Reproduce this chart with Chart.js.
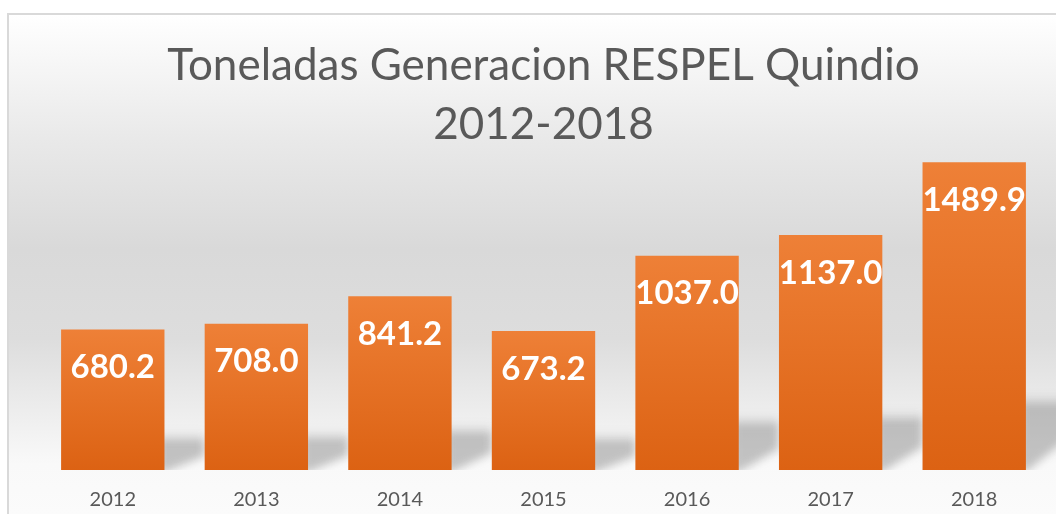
<!DOCTYPE html>
<html>
<head>
<meta charset="utf-8">
<script src="https://cdn.jsdelivr.net/npm/chart.js@4.4.1/dist/chart.umd.min.js"></script>
<style>
    html, body { margin: 0; padding: 0; background: #ffffff; overflow: hidden; }
    #wrap { width: 1056px; height: 540px; }
</style>
</head>
<body>
<div id="wrap"><canvas id="chart" width="1056" height="540"></canvas></div>
<script>
// Data
const years = ['2012', '2013', '2014', '2015', '2016', '2017', '2018'];
const tons = [680.2, 708.0, 841.2, 673.2, 1037.0, 1137.0, 1489.9];
const titleLines = ['Toneladas Generacion RESPEL Quindio', '2012-2018'];

const textGrey = '#595959';

/**
 * Paints the framed, grey-gradient panel behind the whole chart.
 */
const panelBackground = {
    id: 'panelBackground',
    beforeDraw(chart) {
        const ctx = chart.ctx;
        ctx.save();
        ctx.fillStyle = '#ffffff';
        ctx.fillRect(0, 0, chart.width, chart.height);

        const grad = ctx.createLinearGradient(0, 14, 0, 514);
        grad.addColorStop(0.00, '#ffffff');
        grad.addColorStop(0.25, '#e9e9e9');
        grad.addColorStop(0.47, '#d9d9d9');
        grad.addColorStop(0.65, '#dddddd');
        grad.addColorStop(0.82, '#f0f0f0');
        grad.addColorStop(0.90, '#f9f9f9');
        grad.addColorStop(1.00, '#fbfbfb');
        ctx.fillStyle = grad;
        ctx.fillRect(8, 14, chart.width, chart.height);

        ctx.strokeStyle = '#d9d9d9';
        ctx.lineWidth = 2;
        ctx.beginPath();
        ctx.moveTo(8, chart.height);
        ctx.lineTo(8, 14);
        ctx.lineTo(chart.width + 4, 14);
        ctx.stroke();
        ctx.restore();
    }
};

/**
 * Soft floor shadows to the right of each bar.
 */
const barShadows = {
    id: 'barShadows',
    beforeDatasetsDraw(chart) {
        const ctx = chart.ctx;
        const area = chart.chartArea;
        const meta = chart.getDatasetMeta(0);
        ctx.save();
        ctx.beginPath();
        ctx.rect(area.left - 40, area.top, chart.width, area.bottom - area.top);
        ctx.clip();
        ctx.filter = 'blur(4px)';
        meta.data.forEach(bar => {
            const right = bar.x + bar.width / 2;
            const sh = (bar.base - bar.y) * 0.22;
            const top = bar.base - sh;
            // light band above the shadow
            ctx.fillStyle = 'rgba(0, 0, 0, 0.035)';
            ctx.fillRect(right - 6, top - 8, 46, 10);
            ctx.fillStyle = 'rgba(120, 120, 120, 0.42)';
            ctx.beginPath();
            ctx.moveTo(right - 6, top);
            ctx.lineTo(right + 40, top);
            ctx.lineTo(right + 40, top + sh * 0.55);
            ctx.lineTo(right, bar.base + 2);
            ctx.lineTo(right - 6, bar.base + 2);
            ctx.closePath();
            ctx.fill();
        });
        ctx.restore();
    }
};

/**
 * Writes each value in white bold text near the top of its bar.
 */
const valueLabels = {
    id: 'valueLabels',
    afterDatasetsDraw(chart) {
        const ctx = chart.ctx;
        const meta = chart.getDatasetMeta(0);
        ctx.save();
        ctx.fillStyle = '#ffffff';
        ctx.font = 'bold 33px Lato';
        ctx.textAlign = 'center';
        ctx.textBaseline = 'middle';
        meta.data.forEach((bar, i) => {
            ctx.fillText(tons[i].toFixed(1), bar.x, bar.y + 38);
        });
        ctx.restore();
    }
};

function barGradient(context) {
    const chart = context.chart;
    const yScale = chart.scales.y;
    if (!chart.chartArea || !yScale || context.dataIndex === undefined) {
        return '#e6712a';
    }
    const top = yScale.getPixelForValue(tons[context.dataIndex]);
    const base = yScale.getPixelForValue(0);
    const grad = chart.ctx.createLinearGradient(0, top, 0, base);
    grad.addColorStop(0, '#ee8037');
    grad.addColorStop(1, '#dc6213');
    return grad;
}

new Chart(document.getElementById('chart'), {
    type: 'bar',
    data: {
        labels: years,
        datasets: [{
            label: 'Toneladas',
            data: tons,
            backgroundColor: barGradient,
            borderWidth: 0,
            barPercentage: 0.72,
            categoryPercentage: 1.0
        }]
    },
    options: {
        responsive: false,
        animation: false,
        layout: {
            padding: { left: 41, right: 10, top: 0, bottom: 10 }
        },
        plugins: {
            legend: { display: false },
            tooltip: { enabled: false },
            title: {
                display: true,
                text: titleLines,
                color: textGrey,
                font: { family: 'Lato', size: 44, weight: 'normal', lineHeight: 1.34 },
                padding: { top: 36.5, bottom: 5.7 }
            }
        },
        scales: {
            x: {
                grid: { display: false, drawTicks: false },
                border: { display: false },
                ticks: {
                    color: textGrey,
                    padding: 18,
                    font: { family: 'Lato', size: 20, lineHeight: 1.2 }
                }
            },
            y: {
                display: false,
                min: 0,
                max: 1500
            }
        }
    },
    plugins: [panelBackground, barShadows, valueLabels]
});
</script>
</body>
</html>
